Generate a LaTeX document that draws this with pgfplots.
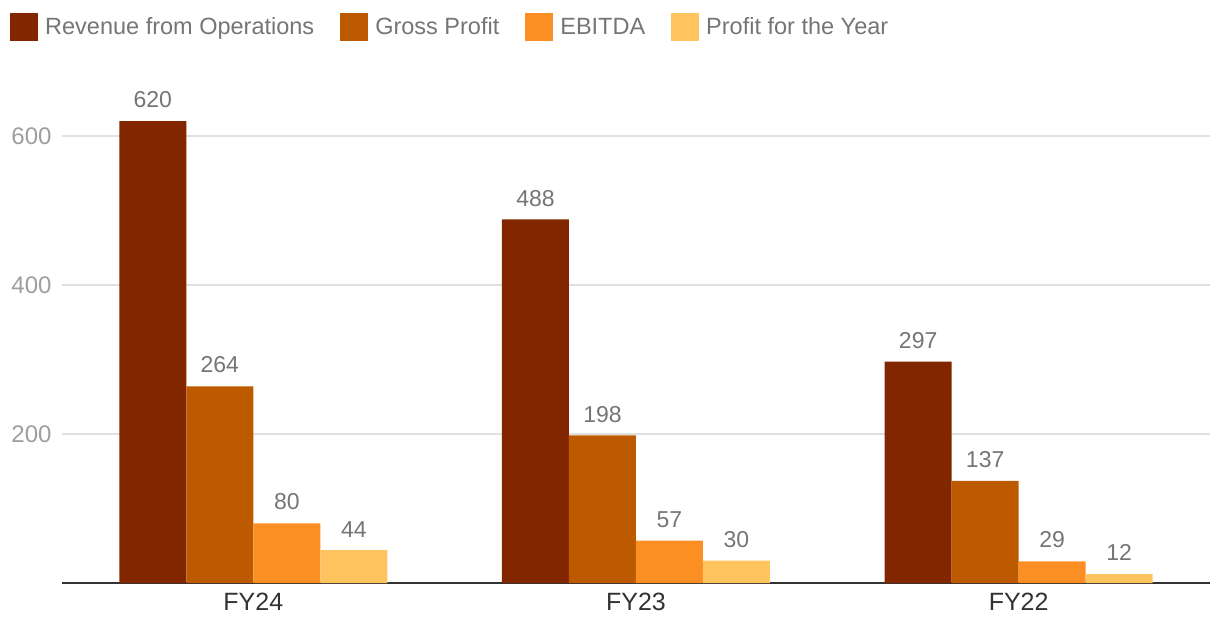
\documentclass[border=0pt]{standalone}
\usepackage{pgfplots}
\pgfplotsset{compat=1.18}
\usepackage{fontspec}
\setmainfont{Liberation Sans}
\definecolor{cA}{RGB}{130,38,0}
\definecolor{cB}{RGB}{189,90,0}
\definecolor{cC}{RGB}{251,143,36}
\definecolor{cD}{RGB}{255,196,94}
\definecolor{txtgray}{RGB}{117,117,117}
\definecolor{tickgray}{RGB}{158,158,158}
\definecolor{gridgray}{RGB}{224,224,224}
\begin{document}
\begin{tikzpicture}
\path (0pt,0pt) rectangle (1220pt,640pt);
\begin{axis}[
  at={(62pt,57pt)}, anchor=south west,
  scale only axis,
  width=1148pt, height=491.7pt,
  xmin=-0.5, xmax=2.5, ymin=0, ymax=660,
  ybar=0pt, bar width=67pt,
  xtick={0,1,2}, xticklabels={FY24,FY23,FY22},
  ytick={200,400,600},
  major tick length=0pt,
  ymajorgrids, grid style={gridgray, line width=1.2pt},
  axis x line*=bottom, axis y line*=left,
  y axis line style={draw=none},
  x axis line style={draw=black!80, line width=2pt, -},
  /pgf/number format/assume math mode=true,
  yticklabel style={font=\fontsize{24}{28}\selectfont, text=tickgray, xshift=-7pt},
  xticklabel style={font=\fontsize{25}{29}\selectfont, text=black!80, yshift=-7pt},
  nodes near coords,
  every node near coord/.append style={font=\fontsize{23}{27}\selectfont, text=txtgray, anchor=south, inner sep=0pt, yshift=13pt},
  legend columns=4,
  legend style={at={(-0.0479,1.131)}, anchor=west, draw=none, fill=none,
    font=\fontsize{23.5}{27}\selectfont, text=txtgray,
    /tikz/every odd column/.append style={column sep=4pt},
    /tikz/every even column/.append style={column sep=23pt},
    nodes={inner sep=3pt}},
  legend image code/.code={\fill[#1] (0pt,-14pt) rectangle (28pt,14pt);},
]
\addplot[fill=cA, draw=none] coordinates {(0,620) (1,488) (2,297)};
\addplot[fill=cB, draw=none] coordinates {(0,264) (1,198) (2,137)};
\addplot[fill=cC, draw=none] coordinates {(0,80) (1,57) (2,29)};
\addplot[fill=cD, draw=none] coordinates {(0,44) (1,30) (2,12)};
\legend{Revenue from Operations, Gross Profit, EBITDA, Profit for the Year}
\end{axis}
\end{tikzpicture}
\end{document}
